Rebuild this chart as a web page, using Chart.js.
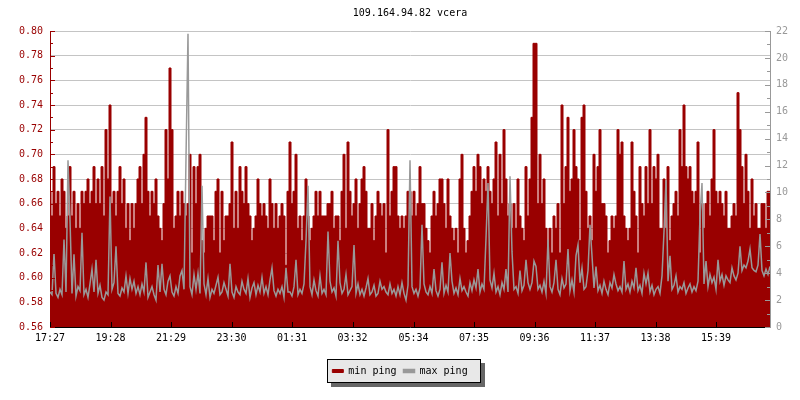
<!DOCTYPE html>
<html>
<head>
<meta charset="utf-8">
<script src="https://cdn.jsdelivr.net/npm/chart.js@4/dist/chart.umd.min.js"></script>
<style>
  html, body { margin: 0; padding: 0; background: #fff; }
</style>
</head>
<body>
<canvas id="myChart" width="800" height="400"></canvas>
<script>
// titulo y leyenda
const chartTitle = "109.164.94.82 vcera";
const seriesNames = ["min ping", "max ping"];

// eje X: minutos desde 17:27, una muestra cada 4 min
const stepMinutes = 4;
const tickMinutes = [0, 121, 242, 363, 484, 605, 727, 848, 969, 1090, 1211, 1332];
const tickLabels = ["17:27", "19:28", "21:29", "23:30", "01:31", "03:32", "05:34", "07:35", "09:36", "11:37", "13:38", "15:39"];

// min ping (eje izquierdo)
const minPing = [
  0.67,0.65,0.69,0.66,0.67,0.65,0.68,0.67,0.64,0.65, 0.69,0.65,0.67,0.64,0.66,0.64,0.67,0.66,0.67,0.68,
  0.66,0.67,0.69,0.66,0.68,0.66,0.69,0.65,0.72,0.68, 0.74,0.66,0.67,0.65,0.67,0.69,0.66,0.68,0.64,0.66,
  0.63,0.66,0.64,0.66,0.68,0.69,0.66,0.70,0.73,0.67, 0.65,0.67,0.66,0.68,0.65,0.64,0.63,0.66,0.72,0.68,
  0.77,0.72,0.64,0.65,0.67,0.65,0.67,0.66,0.65,0.66, 0.70,0.62,0.69,0.66,0.69,0.70,0.63,0.62,0.64,0.65,
  0.65,0.65,0.63,0.67,0.68,0.62,0.67,0.63,0.65,0.65, 0.66,0.71,0.64,0.67,0.64,0.69,0.67,0.66,0.69,0.66,
  0.65,0.63,0.64,0.65,0.68,0.66,0.65,0.66,0.65,0.64, 0.68,0.66,0.64,0.66,0.64,0.65,0.66,0.65,0.61,0.67,
  0.71,0.66,0.67,0.70,0.64,0.65,0.63,0.65,0.68,0.65, 0.63,0.64,0.65,0.67,0.65,0.67,0.65,0.65,0.65,0.66,
  0.66,0.67,0.64,0.65,0.65,0.63,0.67,0.70,0.64,0.71, 0.67,0.65,0.66,0.68,0.64,0.66,0.68,0.69,0.67,0.64,
  0.64,0.66,0.63,0.65,0.67,0.66,0.65,0.66,0.62,0.72, 0.65,0.67,0.69,0.69,0.65,0.64,0.65,0.64,0.65,0.67,
  0.67,0.65,0.67,0.65,0.66,0.69,0.66,0.66,0.64,0.63, 0.62,0.65,0.67,0.65,0.66,0.68,0.68,0.66,0.64,0.68,
  0.65,0.64,0.63,0.64,0.62,0.68,0.70,0.64,0.62,0.63, 0.65,0.67,0.69,0.67,0.70,0.69,0.66,0.68,0.67,0.69,
  0.67,0.66,0.68,0.71,0.65,0.70,0.66,0.72,0.68,0.65, 0.66,0.64,0.66,0.64,0.68,0.65,0.64,0.63,0.69,0.65,
  0.68,0.73,0.79,0.79,0.66,0.70,0.66,0.68,0.64,0.62, 0.64,0.62,0.65,0.64,0.66,0.62,0.74,0.66,0.69,0.73,
  0.67,0.68,0.72,0.69,0.68,0.63,0.73,0.74,0.67,0.64, 0.65,0.63,0.70,0.67,0.69,0.72,0.66,0.66,0.65,0.62,
  0.63,0.65,0.64,0.65,0.72,0.70,0.71,0.65,0.64,0.63, 0.64,0.71,0.67,0.65,0.62,0.69,0.66,0.65,0.69,0.66,
  0.72,0.66,0.69,0.68,0.70,0.64,0.64,0.68,0.64,0.69, 0.63,0.65,0.66,0.67,0.65,0.72,0.69,0.74,0.69,0.68,
  0.69,0.67,0.66,0.67,0.71,0.62,0.66,0.64,0.66,0.67, 0.65,0.68,0.72,0.67,0.66,0.67,0.66,0.65,0.67,0.64,
  0.64,0.65,0.66,0.65,0.75,0.72,0.69,0.66,0.70,0.67, 0.64,0.68,0.65,0.66,0.64,0.64,0.66,0.66,0.64,0.67,
  0.67
];

// max ping (eje derecho)
const maxPing = [
  2.6,2.4,5.5,2.5,2.2,2.8,2.4,6.5,2.6,12.4, 8.0,2.5,5.4,2.3,3.0,2.7,7.0,2.4,2.8,2.2,
  3.2,4.3,2.6,5.0,2.5,3.1,2.2,2.0,2.6,2.4, 9.7,2.8,3.3,6.0,2.5,2.3,2.9,2.6,3.8,2.5,
  3.6,2.8,3.4,2.5,3.0,2.4,3.2,2.6,4.8,2.2, 2.6,3.0,2.4,2.0,4.6,2.6,4.7,2.8,2.4,3.4,
  3.8,2.6,2.3,3.0,2.5,3.8,4.2,2.8,12.6,21.8, 3.0,2.4,3.9,2.8,4.0,2.5,10.5,3.2,2.4,3.6,
  2.2,2.8,2.5,3.1,3.7,2.4,2.6,3.3,2.8,2.3, 4.7,2.6,2.2,3.0,2.6,2.4,3.4,2.8,2.5,3.6,
  2.2,2.9,3.3,2.4,3.1,2.6,3.7,2.5,3.0,2.4, 3.5,4.4,2.7,2.3,2.8,2.5,3.0,2.2,4.4,2.6,
  2.6,2.3,3.0,5.0,2.4,2.8,2.5,3.2,6.4,10.5, 3.0,2.4,3.5,2.7,2.3,3.8,2.5,2.8,2.4,7.1,
  3.4,2.6,2.9,2.3,6.4,3.3,2.5,2.8,3.9,2.4, 2.7,3.0,6.1,2.5,3.2,2.4,2.8,2.3,2.9,3.6,
  2.4,2.6,3.1,2.3,2.5,3.4,2.8,3.0,2.6,2.4, 3.2,2.5,2.8,2.3,3.0,2.4,3.3,2.5,2.0,3.1,
  12.4,3.0,2.5,2.8,2.3,2.9,7.6,3.2,2.6,2.4, 3.0,2.5,4.3,2.7,2.3,2.8,4.8,2.5,3.1,2.6,
  5.5,3.4,2.5,2.9,2.4,3.6,2.7,3.0,2.6,2.3, 3.3,2.7,3.5,2.9,4.3,2.6,3.2,2.8,6.6,10.7,
  3.5,2.9,4.0,2.6,3.0,2.4,3.3,2.8,4.3,2.6, 11.2,5.6,2.8,3.0,2.5,4.2,2.7,3.1,5.0,3.3,
  2.8,3.3,4.9,4.5,2.8,3.1,2.6,3.4,2.5,6.5, 3.0,2.6,3.3,5.0,2.8,2.4,3.6,2.9,3.2,5.8,
  2.7,3.5,2.6,5.3,6.1,3.3,4.4,2.8,3.0,4.2, 7.6,5.3,2.9,4.5,2.7,3.1,2.5,3.4,2.8,2.4,
  3.3,2.9,3.9,3.2,2.7,3.0,2.6,4.9,2.8,3.2, 2.6,3.4,2.9,4.4,2.7,3.1,2.5,4.0,3.2,4.0,
  2.6,3.1,2.4,2.8,3.0,2.5,3.8,7.1,10.9,3.4, 5.3,2.8,3.1,3.8,2.6,3.0,2.8,3.3,2.5,2.9,
  3.2,2.6,3.0,2.7,3.4,8.3,10.7,3.2,4.9,3.0, 3.9,3.3,3.7,2.8,5.0,3.4,3.9,3.1,3.8,3.5,
  3.3,4.4,3.8,3.5,4.0,6.0,4.2,4.6,4.4,4.9, 5.8,4.4,4.2,4.1,4.6,6.9,4.2,3.8,4.3,3.9,
  4.5
];

// colores
const colorMin = "#990000";
const colorMax = "#999999";
const colorGrid = "#c4c4c4";
const fontMono = "'DejaVu Sans Mono', 'Liberation Mono', monospace";

const minData = minPing.map((v, i) => ({ x: i * stepMinutes, y: v }));
const maxData = maxPing.map((v, i) => ({ x: i * stepMinutes, y: v }));

// marcas de eje hacia dentro (principales y secundarias)
const tickMarks = {
  id: "tickMarks",
  afterDatasetsDraw(chart) {
    const ctx = chart.ctx;
    const { left, right, bottom } = chart.chartArea;
    const sy = chart.scales.y, sy2 = chart.scales.y2, sx = chart.scales.x;
    ctx.save();
    ctx.lineWidth = 1;
    ctx.strokeStyle = colorMin;
    for (let k = 0; k <= 24; k++) {
      const py = Math.round(sy.getPixelForValue(0.56 + k * 0.01)) + 0.5;
      const len = k % 2 === 0 ? 5 : 3;
      ctx.beginPath(); ctx.moveTo(left, py); ctx.lineTo(left + len, py); ctx.stroke();
    }
    ctx.strokeStyle = colorMax;
    for (let k = 0; k <= 22; k++) {
      const py = Math.round(sy2.getPixelForValue(k)) + 0.5;
      const len = k % 2 === 0 ? 5 : 3;
      ctx.beginPath(); ctx.moveTo(right, py); ctx.lineTo(right - len, py); ctx.stroke();
    }
    ctx.strokeStyle = "#000";
    tickMinutes.forEach((m) => {
      const px = Math.round(sx.getPixelForValue(m)) + 0.5;
      ctx.beginPath(); ctx.moveTo(px, bottom); ctx.lineTo(px, bottom - 5); ctx.stroke();
    });
    ctx.restore();
  },
};

// caja de la leyenda con sombra
const legendBox = {
  id: "legendBox",
  beforeDraw(chart) {
    const hb = chart.legend.legendHitBoxes;
    if (!hb || !hb.length) return;
    const ctx = chart.ctx;
    const l = Math.round(Math.min(...hb.map((h) => h.left))) - 5;
    const r = Math.round(Math.max(...hb.map((h) => h.left + h.width))) + 13;
    const t = Math.round(hb[0].top) - 7;
    const h = hb[0].height + 14;
    ctx.save();
    ctx.fillStyle = "#666666";
    ctx.fillRect(l + 4, t + 4, r - l, h);
    ctx.fillStyle = "#e8e8e8";
    ctx.fillRect(l, t, r - l, h);
    ctx.strokeStyle = "#000";
    ctx.lineWidth = 1;
    ctx.strokeRect(l + 0.5, t + 0.5, r - l - 1, h - 1);
    ctx.restore();
  },
};

const ctx = document.getElementById("myChart").getContext("2d");

new Chart(ctx, {
  type: "line",
  data: {
    datasets: [
      {
        label: seriesNames[0],
        data: minData,
        yAxisID: "y",
        borderColor: colorMin,
        backgroundColor: colorMin,
        borderWidth: 1,
        pointRadius: 0,
        stepped: "middle",
        fill: "start",
        order: 2,
      },
      {
        label: seriesNames[1],
        data: maxData,
        yAxisID: "y2",
        borderColor: colorMax,
        backgroundColor: colorMax,
        borderWidth: 1.5,
        pointRadius: 0,
        fill: false,
        order: 1,
      },
    ],
  },
  options: {
    responsive: false,
    animation: false,
    devicePixelRatio: 1,
    events: [],
    layout: { padding: { left: 0, right: 0, top: 0, bottom: 14 } },
    plugins: {
      title: {
        display: true,
        text: chartTitle,
        fullSize: false,
        color: "#000",
        font: { family: fontMono, size: 10, weight: "normal", lineHeight: 1.2 },
        padding: { top: 7, bottom: 12 },
      },
      legend: {
        display: true,
        position: "bottom",
        labels: {
          color: "#000",
          font: { family: fontMono, size: 10 },
          boxWidth: 11,
          boxHeight: 3,
          padding: 7,
          sort: (a, b) => a.datasetIndex - b.datasetIndex,
        },
      },
      tooltip: { enabled: false },
    },
    scales: {
      x: {
        type: "linear",
        min: 0,
        max: 1440,
        afterBuildTicks: (scale) => {
          scale.ticks = tickMinutes.map((m) => ({ value: m }));
        },
        afterFit: (scale) => { scale.height = 32; },
        ticks: {
          autoSkip: false,
          maxRotation: 0,
          padding: 5,
          color: "#000",
          font: { family: fontMono, size: 10 },
          callback: (v) => tickLabels[tickMinutes.indexOf(v)],
        },
        grid: { drawOnChartArea: false, drawTicks: false },
        border: { color: "#000" },
      },
      y: {
        position: "left",
        min: 0.56,
        max: 0.80,
        afterFit: (scale) => { scale.width = 50; },
        ticks: {
          stepSize: 0.02,
          padding: 7,
          color: colorMin,
          font: { family: fontMono, size: 10 },
          callback: (v) => v.toFixed(2),
        },
        grid: { color: colorGrid, drawTicks: false },
        border: { color: colorMin },
      },
      y2: {
        position: "right",
        min: 0,
        max: 22,
        afterFit: (scale) => { scale.width = 30; },
        ticks: {
          stepSize: 2,
          padding: 6,
          color: colorMax,
          font: { family: fontMono, size: 10 },
        },
        grid: { drawOnChartArea: false, drawTicks: false },
        border: { color: colorMax },
      },
    },
  },
  plugins: [tickMarks, legendBox],
});
</script>
</body>
</html>
